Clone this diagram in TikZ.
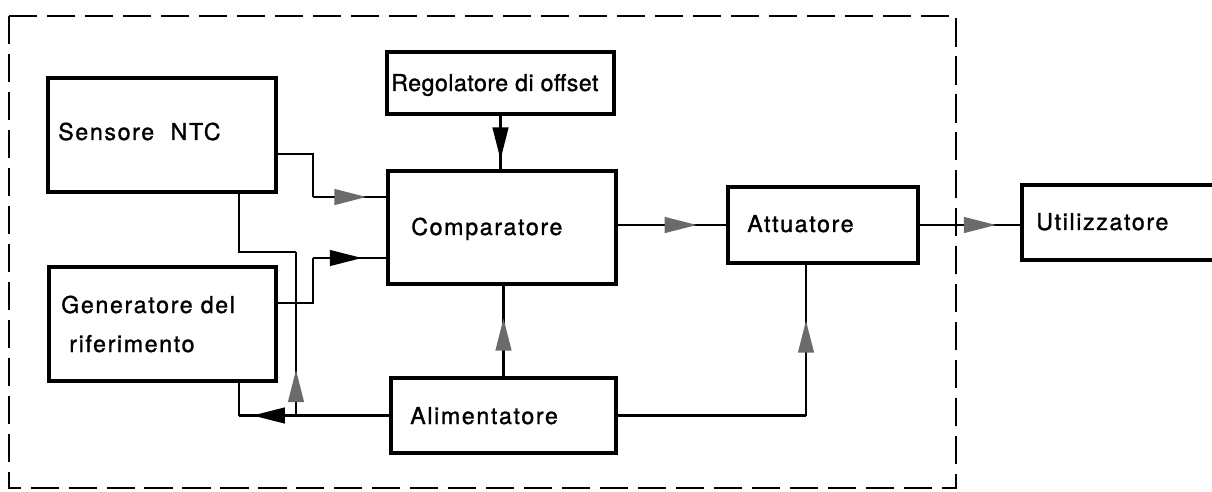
\documentclass[tikz,border=0pt]{standalone}
\usepackage{fontspec}
\setmainfont{TeX Gyre Heros}[LetterSpace=7, FakeBold=1.2]
\usetikzlibrary{arrows.meta,decorations.markings}
\colorlet{headgray}{black!58}

\begin{document}
\begin{tikzpicture}[x=0.025cm, y=-0.025cm,
  blok/.style={draw, line width=2.2pt, inner sep=0pt},
  wire/.style={line width=2.1pt},
  lbl/.style={anchor=base west, inner sep=0pt, font=\fontsize{16.5}{19}\selectfont},
  headat/.style 2 args={postaction={decorate}, decoration={markings,
    mark=at position #1 with {\arrow{Triangle[length=23pt, width=11pt, color=#2]}}}}]
\useasboundingbox (0,0) rectangle (1212,492);
\clip (0,0) rectangle (1212,492);
\draw[line width=2.1pt, dash pattern=on 20pt off 7pt] (9,16) rectangle (956,488);

\node[blok, minimum width=5.7cm, minimum height=2.85cm] (sens) at (162,135) {};
\node[blok, minimum width=5.675cm, minimum height=2.85cm] (gen) at (162.5,324) {};
\node[blok, minimum width=5.675cm, minimum height=1.55cm] (reg) at (500.5,83) {};
\node[blok, minimum width=5.7cm, minimum height=2.825cm] (cmp) at (502,227.5) {};
\node[blok, minimum width=4.75cm, minimum height=1.9cm] (att) at (823,225) {};
\node[blok, minimum width=5.6cm, minimum height=1.875cm] (util) at (1134,222.5) {};
\node[blok, minimum width=5.625cm, minimum height=1.875cm] (alim) at (503.5,415.5) {};

\node[lbl] (tsens) at (58,140) {Sensore\hspace{6pt} NTC};
\node[lbl] (tgen1) at (61,313) {Generatore del};
\node[lbl] (tgen2) at (69,352) {riferimento};
\node[lbl, font=\fontsize{16.5}{19}\selectfont\addfontfeatures{LetterSpace=2}] (treg) at (391,91) {Regolatore di offset};
\node[lbl] (tcmp) at (411,235) {Comparatore};
\node[lbl] (tatt) at (747,232) {Attuatore};
\node[lbl] (tutil) at (1036,230) {Utilizzatore};
\node[lbl] (talim) at (410,424) {Alimentatore};

\coordinate (b1) at (313,197);
\coordinate (b2) at (313,258);
\coordinate (b3) at (296,252);
\coordinate (b4) at (239,415.5);
\coordinate (b5) at (806,415.5);

\draw[wire] ([yshift=-0.475cm]sens.east) -| (b1);
\draw[wire, headat={0.73}{headgray}] (b1) -- (b1 -| cmp.west);
\draw[wire] ([yshift=0.525cm]gen.east) -| (b2);
\draw[wire, headat={0.67}{black}] (b2) -- (b2 -| cmp.west);
\draw[wire, headat={0.82}{black}] (reg.south) -- (reg.south |- cmp.north);
\draw[wire, headat={0.73}{headgray}] (cmp.east |- att.west) -- (att.west);
\draw[wire, headat={0.76}{headgray}] (att.east) -- (att.east -| util.west);
\draw[wire, headat={0.64}{headgray}] (alim.north) -- (alim.north |- cmp.south);
\draw[wire] (alim.east) -- (b5);
\draw[wire, headat={0.63}{headgray}] (b5) -- (b5 |- att.south);
\draw[wire, headat={0.91}{black}] (alim.west) -- (b4);
\draw[wire] (b4) -- (b4 |- gen.south);
\draw[wire, headat={0.28}{headgray}] (b4 -| b3) -- (b3);
\draw[wire] (b3) -- (b3 -| b4) -- (b4 |- sens.south);

\end{tikzpicture}
\end{document}
